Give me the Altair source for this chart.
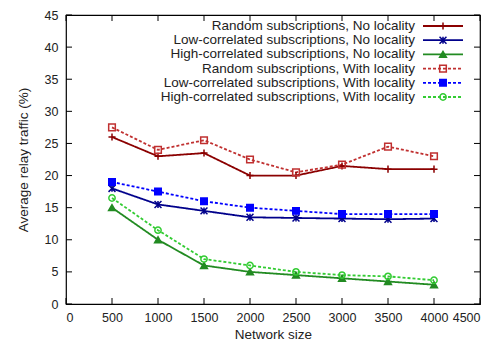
import altair as alt
import pandas as pd

sizes = [500, 1000, 1500, 2000, 2500, 3000, 3500, 4000]
series_names = [
    "Random subscriptions, No locality",
    "Low-correlated subscriptions, No locality",
    "High-correlated subscriptions, No locality",
    "Random subscriptions, With locality",
    "Low-correlated subscriptions, With locality",
    "High-correlated subscriptions, With locality",
]
random_no = [26, 23, 23.5, 20, 20, 21.5, 21, 21]
low_no = [18, 15.5, 14.5, 13.5, 13.4, 13.3, 13.2, 13.3]
high_no = [15, 10, 6, 5, 4.5, 4, 3.5, 3]
random_loc = [27.5, 24, 25.5, 22.5, 20.5, 21.7, 24.5, 23]
low_loc = [19, 17.5, 16, 15, 14.5, 14, 14, 14]
high_loc = [16.5, 11.5, 7, 6, 5, 4.5, 4.3, 3.7]
x_ticks = [0, 500, 1000, 1500, 2000, 2500, 3000, 3500, 4000, 4500]
y_ticks = [0, 5, 10, 15, 20, 25, 30, 35, 40, 45]

colors = ["#8b0000", "#00008b", "#228b22", "#c03030", "#0000ff", "#33cc33"]
fills = ["#8b0000", "#00008b", "#228b22", "transparent", "#0000ff", "transparent"]
dashes = [[1, 0], [1, 0], [1, 0], [3, 2], [3, 2], [3, 2]]
shapes = [
    "M-1,0H1M0,-1V1",
    "M-1,-1L1,1M-1,1L1,-1M0,-1V1",
    "triangle-up",
    "square",
    "square",
    "circle",
]
sizes_pt = [50, 40, 50, 50, 45, 45]

all_vals = [random_no, low_no, high_no, random_loc, low_loc, high_loc]
rows = []
for name, vals in zip(series_names, all_vals):
    for s, v in zip(sizes, vals):
        rows.append({"series": name, "size": s, "value": v})
df = pd.DataFrame(rows)
leg = pd.DataFrame({"series": series_names, "row": list(range(len(series_names)))})

W, H = 414, 289
FONT = "Liberation Sans"

color = alt.Color("series:N", scale=alt.Scale(domain=series_names, range=colors), legend=None)
dash = alt.StrokeDash("series:N", scale=alt.Scale(domain=series_names, range=dashes), legend=None)
shape = alt.Shape("series:N", scale=alt.Scale(domain=series_names, range=shapes), legend=None)
fill = alt.Fill("series:N", scale=alt.Scale(domain=series_names, range=fills), legend=None)
size = alt.Size("series:N", scale=alt.Scale(domain=series_names, range=sizes_pt), legend=None)

xs = alt.Scale(domain=[0, 4500], nice=False)
ys = alt.Scale(domain=[0, 45], nice=False)
xaxis = alt.Axis(values=x_ticks, ticks=False, domain=False, grid=False,
                 labelPadding=7, titlePadding=4, format="d", labelOverlap=False)
yaxis = alt.Axis(values=y_ticks, ticks=False, domain=False, grid=False,
                 labelPadding=8, titlePadding=14, labelOverlap=False)
XT = "Network size"
YT = "Average relay traffic (%)"


def X(f):
    return alt.X(f, scale=xs, axis=xaxis, title=XT)


def Y(f):
    return alt.Y(f, scale=ys, axis=yaxis, title=YT)


lines = alt.Chart(df).mark_line(strokeWidth=1.8, clip=True).encode(
    x=X("size:Q"), y=Y("value:Q"), color=color, strokeDash=dash, detail="series:N")
points = alt.Chart(df).mark_point(filled=False, strokeWidth=1.5, opacity=1).encode(
    x=X("size:Q"), y=Y("value:Q"),
    color=color, shape=shape, fill=fill, size=size)

xt = pd.DataFrame({"t": x_ticks})
yt = pd.DataFrame({"t": y_ticks})
xtick_b = alt.Chart(xt).mark_rule(color="black").encode(
    x=X("t:Q"), y=alt.value(H), y2=alt.value(H - 6))
xtick_t = alt.Chart(xt).mark_rule(color="black").encode(
    x=X("t:Q"), y=alt.value(0), y2=alt.value(6))
ytick_l = alt.Chart(yt).mark_rule(color="black").encode(
    y=Y("t:Q"), x=alt.value(0), x2=alt.value(6))
ytick_r = alt.Chart(yt).mark_rule(color="black").encode(
    y=Y("t:Q"), x=alt.value(W - 6), x2=alt.value(W))

leg_y = alt.Y("row:Q", scale=alt.Scale(domain=[0, 5], range=[11, 82]), axis=None)
leg_text = alt.Chart(leg).mark_text(align="right", baseline="middle", fontSize=13.5,
                                    font=FONT, color="#222222").encode(
    x=alt.value(349), y=leg_y, text="series:N")
leg_line = alt.Chart(leg).mark_rule(strokeWidth=1.8).encode(
    x=alt.value(357), x2=alt.value(397), y=leg_y, color=color, strokeDash=dash)
leg_pt = alt.Chart(leg).mark_point(filled=False, strokeWidth=1.5, opacity=1).encode(
    x=alt.value(377), y=leg_y, color=color, shape=shape, fill=fill, size=size)

data_layer = alt.layer(lines, points, xtick_b, xtick_t, ytick_l, ytick_r)
legend_layer = alt.layer(leg_line, leg_pt, leg_text)

chart = alt.layer(data_layer, legend_layer).resolve_scale(y="independent").properties(
    width=W, height=H,
    autosize=alt.AutoSizeParams(type="none"),
    padding={"left": 58, "top": 7, "right": 10, "bottom": 38},
).configure_view(stroke="black", strokeWidth=1.2).configure_axis(
    labelFont=FONT, titleFont=FONT, labelFontSize=12.5, titleFontSize=13.5,
    labelColor="#222222", titleColor="#222222", titleFontWeight="normal"
)

chart.save("out.html", embed_options={"renderer": "svg", "actions": False})
